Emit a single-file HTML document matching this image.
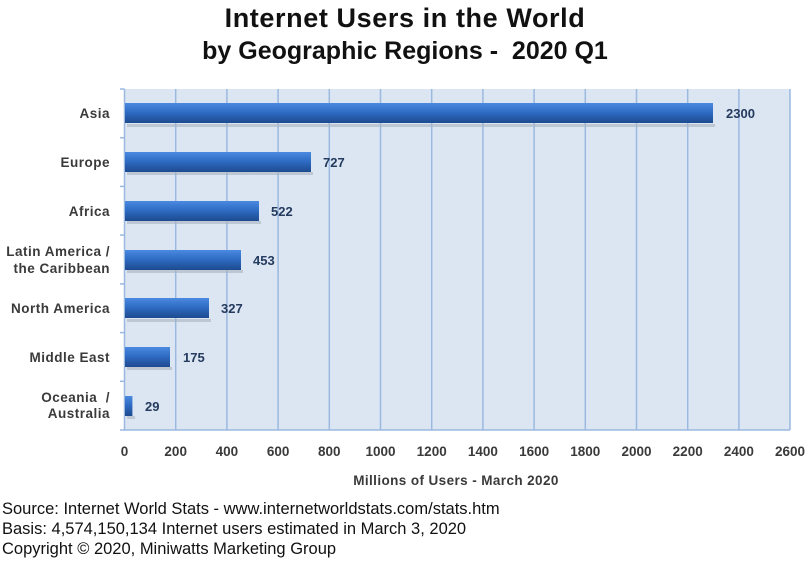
<!DOCTYPE html>
<html><head><style>
body{margin:0;background:#fff;width:810px;height:562px;overflow:hidden;font-family:"Liberation Sans",sans-serif}
.t{position:absolute;left:0;width:810px;text-align:center;font-weight:bold;font-size:25px;color:#111}
.s{position:absolute;left:2px;font-size:16.5px;color:#111}
</style></head><body>
<div class="t" style="top:3px;font-size:27px;letter-spacing:0.6px">Internet Users in the World</div>
<div class="t" style="top:37px">by Geographic Regions -&nbsp; 2020 Q1</div>
<svg width="810" height="500" style="position:absolute;left:0;top:0" font-family="Liberation Sans, sans-serif">
<defs><linearGradient id="g" x1="0" y1="0" x2="0" y2="1">
<stop offset="0" stop-color="#4a8ae0"/><stop offset="0.45" stop-color="#2f6cc4"/><stop offset="1" stop-color="#1d4a8f"/></linearGradient></defs>
<rect x="124.5" y="89" width="665.5" height="341" fill="#dce6f2"/>
<g stroke="#9ab8e0" stroke-width="1.5">
<line x1="175.7" y1="89" x2="175.7" y2="430"/><line x1="226.9" y1="89" x2="226.9" y2="430"/><line x1="278.1" y1="89" x2="278.1" y2="430"/><line x1="329.3" y1="89" x2="329.3" y2="430"/><line x1="380.5" y1="89" x2="380.5" y2="430"/><line x1="431.7" y1="89" x2="431.7" y2="430"/><line x1="482.9" y1="89" x2="482.9" y2="430"/><line x1="534.1" y1="89" x2="534.1" y2="430"/><line x1="585.3" y1="89" x2="585.3" y2="430"/><line x1="636.5" y1="89" x2="636.5" y2="430"/><line x1="687.7" y1="89" x2="687.7" y2="430"/><line x1="738.9" y1="89" x2="738.9" y2="430"/><line x1="790" y1="89" x2="790" y2="430"/>
<line x1="124.5" y1="89" x2="124.5" y2="430"/><line x1="120" y1="430" x2="790" y2="430"/>
<line x1="120" y1="89" x2="124.5" y2="89"/><line x1="120" y1="137.7" x2="124.5" y2="137.7"/><line x1="120" y1="186.4" x2="124.5" y2="186.4"/><line x1="120" y1="235.1" x2="124.5" y2="235.1"/><line x1="120" y1="283.9" x2="124.5" y2="283.9"/><line x1="120" y1="332.6" x2="124.5" y2="332.6"/><line x1="120" y1="381.3" x2="124.5" y2="381.3"/>
</g>
<g fill="#aab4c0" opacity="0.6">
<rect x="127" y="124" width="588" height="3"/><rect x="127" y="172" width="186" height="3"/><rect x="127" y="221" width="134" height="3"/><rect x="127" y="270" width="116" height="3"/><rect x="127" y="319" width="84" height="3"/><rect x="127" y="367" width="45" height="3"/><rect x="127" y="416" width="8" height="3"/>
</g>
<g fill="url(#g)">
<rect x="125" y="103" width="588" height="20"/><rect x="125" y="152" width="186" height="20"/><rect x="125" y="201" width="134" height="20"/><rect x="125" y="250" width="116" height="20"/><rect x="125" y="298" width="84" height="20"/><rect x="125" y="347" width="45" height="20"/><rect x="125" y="396" width="7.4" height="20"/>
</g>
<g font-size="13" font-weight="bold" fill="#243a5e">
<text x="726" y="118">2300</text><text x="323" y="167">727</text><text x="271" y="216">522</text><text x="253" y="265">453</text><text x="221" y="313">327</text><text x="183" y="362">175</text><text x="145" y="411">29</text>
</g>
<g font-size="13.5" font-weight="bold" fill="#3a3a3a" text-anchor="end" letter-spacing="0.5">
<text x="110" y="118">Asia</text><text x="110" y="167">Europe</text><text x="110" y="216">Africa</text>
<text x="110" y="256">Latin America /</text><text x="110" y="273">the Caribbean</text>
<text x="110" y="313">North America</text><text x="110" y="362">Middle East</text>
<text x="110" y="402">Oceania&#160; /</text><text x="110" y="418">Australia</text>
</g>
<g font-size="13.5" font-weight="bold" fill="#3a3a3a" text-anchor="middle">
<text x="124.5" y="456">0</text><text x="175.7" y="456">200</text><text x="226.9" y="456">400</text><text x="278.1" y="456">600</text><text x="329.3" y="456">800</text><text x="380.5" y="456">1000</text><text x="431.7" y="456">1200</text><text x="482.9" y="456">1400</text><text x="534.1" y="456">1600</text><text x="585.3" y="456">1800</text><text x="636.5" y="456">2000</text><text x="687.7" y="456">2200</text><text x="738.9" y="456">2400</text><text x="790" y="456">2600</text>
<text x="456" y="485" letter-spacing="0.4">Millions of Users - March 2020</text>
</g>
</svg>
<div class="s" style="top:500px">Source: Internet World Stats - www.internetworldstats.com/stats.htm</div>
<div class="s" style="top:520px">Basis: 4,574,150,134 Internet users estimated in March 3, 2020</div>
<div class="s" style="top:540px">Copyright © 2020, Miniwatts Marketing Group</div>
</body></html>
